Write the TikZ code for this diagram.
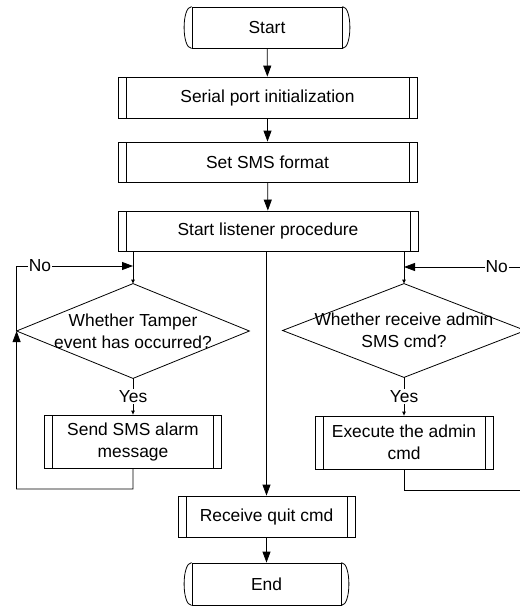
\documentclass[tikz,border=0pt]{standalone}
\usepackage{fontspec}
\setmainfont{Liberation Sans}
\usetikzlibrary{arrows.meta}

\begin{document}
\begin{tikzpicture}[x=1pt,y=-1pt,line width=0.8pt,
  every node/.style={font=\fontsize{17.4}{22}\selectfont,align=center,inner sep=0pt},
  procbox/.style={draw,rectangle,minimum width=#1,
    path picture={
      \draw ([xshift=8pt]path picture bounding box.north west) -- ([xshift=8pt]path picture bounding box.south west);
      \draw ([xshift=-8pt]path picture bounding box.north east) -- ([xshift=-8pt]path picture bounding box.south east);
    }},
  termbox/.style={draw,rectangle,minimum width=150pt,minimum height=41pt},
  decision/.style={rectangle,minimum width=#1,minimum height=94pt},
  bigarrow/.style={-{Triangle[length=11pt,width=8pt]}},
  smallarrow/.style={-{Triangle[length=4pt,width=3.5pt]}},
  lbl/.style={fill=white,inner sep=1pt}
]
\useasboundingbox (0,0) rectangle (520,606);

% terminals and process boxes
\node[termbox] (start) at (267,27.5) {Start};
\node[procbox=299pt,minimum height=41pt] (serial) at (267.5,97.5) {Serial port initialization};
\node[procbox=299pt,minimum height=40pt] (setsms) at (267.5,162) {Set SMS format};
\node[procbox=300pt,minimum height=40pt] (listen) at (268,231) {Start listener procedure};

% decisions
\node[decision=232pt] (tamper) at (133,331) {Whether Tamper\\event has occurred?};
\node[decision=242pt,minimum height=93pt] (admin) at (404,330.5) {Whether receive admin\\SMS cmd?};
\draw (tamper.north) -- (tamper.east) -- (tamper.south) -- (tamper.west) -- cycle;
\draw (admin.north) -- (admin.east) -- (admin.south) -- (admin.west) -- cycle;

\node[procbox=177pt,minimum height=53pt] (send) at (133,441.5) {Send SMS alarm\\message};
\node[procbox=178pt,minimum height=53pt] (exec) at (404,442.5) {Execute the admin\\cmd};
\node[procbox=177pt,minimum height=41pt] (quit) at (266.5,516.5) {Receive quit cmd};
\node[termbox,minimum width=149pt,minimum height=42pt] (end) at (266.5,584) {End};

% rounded ends of the terminals
\foreach \t in {start,end}{
  \draw (\t.north west) .. controls ([xshift=-10pt]\t.north west) and ([xshift=-10pt]\t.south west) .. (\t.south west);
  \draw (\t.north east) .. controls ([xshift=10pt]\t.north east) and ([xshift=10pt]\t.south east) .. (\t.south east);
}

% main flow
\draw[bigarrow] (start) -- (serial);
\draw[bigarrow] (serial) -- (setsms);
\draw[bigarrow] (setsms) -- (listen);
\draw[bigarrow] (listen.south -| quit.north) -- (quit.north);
\draw[bigarrow] (quit) -- (end);

% left branch
\coordinate (lnTop) at (133,266);
\coordinate (lnBot) at (16.5,489);
\draw[smallarrow] (tamper.north |- listen.south) -- (tamper.north);
\draw[bigarrow] (tamper.west) |- node[lbl,pos=0.6] {No} (lnTop);
\draw[smallarrow] (tamper.south) -- node[lbl] {Yes} (send.north);
\draw[bigarrow] (send.south) |- (lnBot) -- (tamper.west);

% right branch
\coordinate (rnTop) at (404,267);
\coordinate (rnBot) at (526,490);
\draw[smallarrow] (admin.north |- listen.south) -- (admin.north);
\draw[smallarrow] (admin.south) -- node[lbl] {Yes} (exec.north);
\draw[bigarrow] (exec.south) |- (rnBot) |- node[lbl,pos=0.62] {No} (rnTop);
\end{tikzpicture}
\end{document}
